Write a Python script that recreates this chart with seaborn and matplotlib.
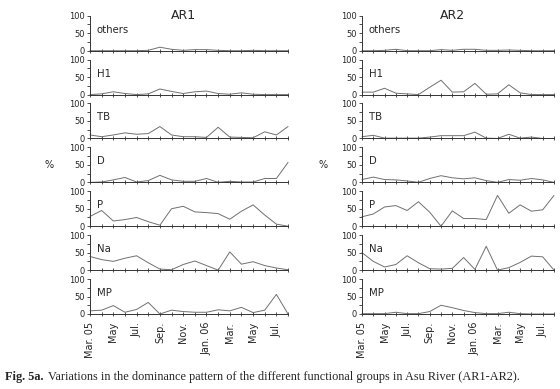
import matplotlib
matplotlib.use('Agg')
import matplotlib.pyplot as plt
import seaborn as sns
import pandas as pd
from matplotlib.ticker import MultipleLocator, FixedLocator

# Estilo
sns.set_style('ticks')
plt.rcParams['font.family'] = ['DejaVu Sans']

# Datos (% mensual, Mar. 05 - Ago. 06)
meses = list(range(18))
ticks_mes = [0, 2, 4, 6, 8, 10, 12, 14, 16]
etiquetas_mes = ['Mar. 05', 'May', 'Jul.', 'Sep.', 'Nov.', 'Jan. 06', 'Mar.', 'May', 'Jul.']
grupos = ['others', 'H1', 'TB', 'D', 'P', 'Na', 'MP']
estaciones = ['AR1', 'AR2']

ar1_others = [0, 0, 0, 0, 0, 1, 10, 4, 1, 3, 3, 1, 0, 0, 1, 0, 0, 0]
ar1_h1 = [0, 2, 8, 3, 0, 2, 16, 9, 3, 8, 10, 3, 1, 5, 1, 0, 0, 0]
ar1_tb = [10, 5, 10, 16, 12, 14, 34, 10, 5, 5, 3, 32, 4, 3, 2, 19, 10, 34]
ar1_d = [0, 1, 7, 14, 1, 5, 20, 7, 3, 3, 11, 0, 3, 1, 1, 11, 11, 57]
ar1_p = [28, 45, 15, 19, 25, 13, 3, 50, 57, 41, 39, 36, 20, 43, 61, 32, 6, 0]
ar1_na = [39, 30, 25, 34, 41, 21, 3, 1, 16, 26, 13, 0, 52, 17, 24, 13, 6, 1]
ar1_mp = [9, 11, 24, 5, 13, 33, 0, 11, 7, 5, 5, 12, 9, 19, 4, 11, 56, 0]

ar2_others = [0, 0, 1, 4, 0, 0, 0, 3, 1, 4, 4, 1, 1, 2, 1, 0, 0, 0]
ar2_h1 = [7, 7, 18, 4, 2, 0, 21, 41, 7, 8, 32, 1, 2, 28, 5, 0, 0, 0]
ar2_tb = [5, 9, 1, 1, 1, 1, 4, 8, 8, 8, 18, 1, 0, 12, 1, 4, 0, 0]
ar2_d = [8, 15, 8, 7, 4, 0, 11, 19, 13, 10, 13, 5, 0, 8, 6, 11, 7, 0]
ar2_p = [27, 35, 55, 59, 45, 70, 40, 0, 44, 22, 22, 19, 88, 37, 61, 43, 47, 88]
ar2_na = [50, 25, 9, 16, 41, 21, 4, 3, 5, 36, 2, 68, 0, 7, 22, 40, 38, 0]
ar2_mp = [1, 1, 1, 5, 1, 1, 7, 25, 18, 10, 4, 1, 1, 5, 1, 0, 0, 0]

series = {
    'AR1': [ar1_others, ar1_h1, ar1_tb, ar1_d, ar1_p, ar1_na, ar1_mp],
    'AR2': [ar2_others, ar2_h1, ar2_tb, ar2_d, ar2_p, ar2_na, ar2_mp],
}

filas = []
for est in estaciones:
    for g, vals in zip(grupos, series[est]):
        for m, v in zip(meses, vals):
            filas.append({'Estacion': est, 'Grupo': g, 'Mes': m, 'Valor': v})
df = pd.DataFrame(filas)

fig, axes = plt.subplots(7, 2, figsize=(5.6, 3.89), dpi=100, sharex='col',
                         gridspec_kw={'width_ratios': [198, 192]})
fig.subplots_adjust(left=90 / 560, right=554 / 560, top=1 - 15.7 / 389,
                    bottom=1 - 314 / 389, hspace=0.254, wspace=0.379)

for c, est in enumerate(estaciones):
    for r, g in enumerate(grupos):
        ax = axes[r, c]
        sub = df[(df['Estacion'] == est) & (df['Grupo'] == g)]
        sns.lineplot(data=sub, x='Mes', y='Valor', ax=ax, color='#707070',
                     linewidth=0.7, clip_on=False)
        ax.set_xlim(0, 17)
        ax.set_ylim(0, 100)
        ax.set_xlabel('')
        ax.set_ylabel('')
        for s in ['top', 'right']:
            ax.spines[s].set_visible(False)
        for s in ['left', 'bottom']:
            ax.spines[s].set_linewidth(0.7)
            ax.spines[s].set_color('#333333')
        ax.set_yticks([0, 50, 100])
        ax.yaxis.set_minor_locator(FixedLocator([25, 75]))
        ax.xaxis.set_major_locator(FixedLocator(ticks_mes))
        ax.xaxis.set_minor_locator(MultipleLocator(1))
        ax.tick_params(axis='y', which='both', length=2.5, width=0.6, pad=1.5,
                       labelsize=6, color='#333333')
        ax.tick_params(axis='x', which='both', direction='inout', length=3.5,
                       width=0.6, color='#333333')
        ax.text(0.035, 0.6, g, transform=ax.transAxes, fontsize=7.3,
                ha='left', va='center')
        if g == 'D':
            ax.set_ylabel('%', rotation=0, fontsize=7, va='center')
            ax.yaxis.set_label_coords(-40 / 195, 0.5)
    axes[0, c].text(0.47, 1.02, est, transform=axes[0, c].transAxes,
                    fontsize=9, ha='center', va='center')
    axes[6, c].set_xticks(ticks_mes)
    axes[6, c].set_xticklabels(etiquetas_mes, rotation=90, fontsize=7)
    axes[6, c].tick_params(axis='x', pad=4)

# Pie de figura
serif = ['Liberation Serif', 'DejaVu Serif']
t1 = fig.text(5 / 560, 1 - 377 / 389, 'Fig. 5a.', fontweight='bold',
              family=serif, fontsize=8.8, va='center', ha='left')
axes[6, 0].annotate('Variations in the dominance pattern of the different functional groups in Asu River (AR1-AR2).',
                    xy=(1, 0.5), xycoords=t1, xytext=(3, 0), textcoords='offset points',
                    va='center', ha='left', family=serif, fontsize=8.8,
                    annotation_clip=False)

plt.savefig('out.png', dpi=100)
plt.close()
